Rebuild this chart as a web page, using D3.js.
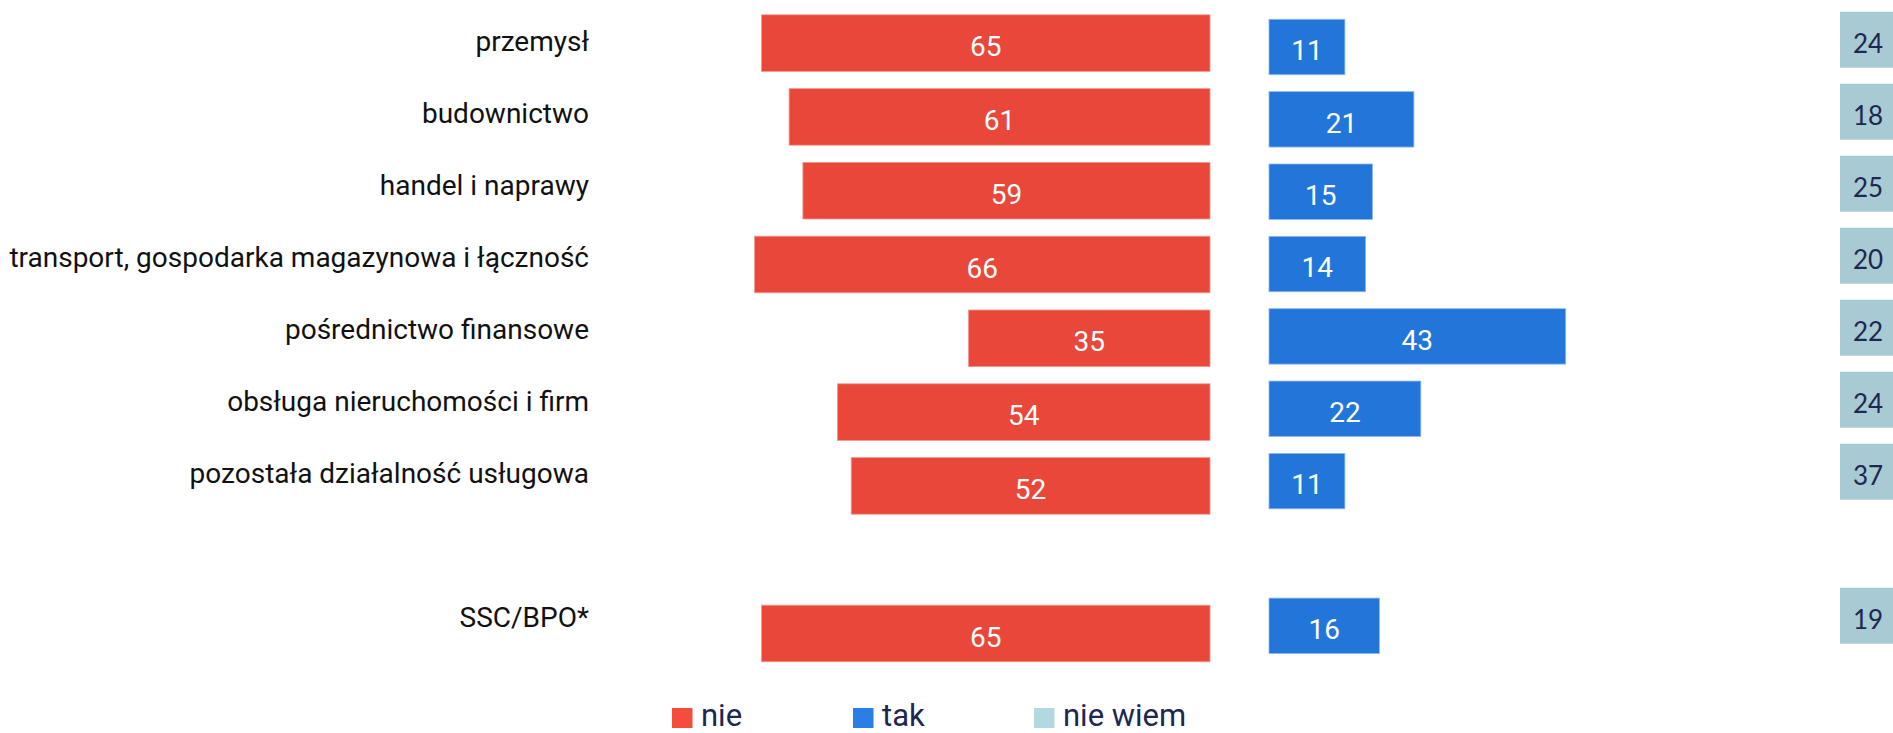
<!DOCTYPE html>
<html lang="pl">
<head>
  <meta charset="UTF-8" />
  <title>nie / tak / nie wiem</title>
  <script src="https://d3js.org/d3.v7.min.js"></script>
  <style>
    html, body { margin: 0; padding: 0; background: white; overflow: hidden; }
    svg { display: block; }
  </style>
</head>
<body>
<svg id="chart"></svg>
<script>
const width = 1893, height = 733;

// Data
const categories = [
  "przemysł",
  "budownictwo",
  "handel i naprawy",
  "transport, gospodarka magazynowa i łączność",
  "pośrednictwo finansowe",
  "obsługa nieruchomości i firm",
  "pozostała działalność usługowa",
  "SSC/BPO*"
];
const nie = [65, 61, 59, 66, 35, 54, 52, 65];
const tak = [11, 21, 15, 14, 43, 22, 11, 16];
const nieWiem = [24, 18, 25, 20, 22, 24, 37, 19];
const seriesNames = ["nie", "tak", "nie wiem"];

const svg = d3.select("#chart")
  .attr("width", width)
  .attr("height", height);

// empty row before SSC/BPO*
const rowKeys = categories.slice(0, 7).concat(["_gap"], categories.slice(7));

// each column sits on a slightly different grid in the original
function band(top, step, h) {
  const pi = 1 - h / step;
  const start = top - (pi / 2) * step;
  return d3.scaleBand().domain(rowKeys)
    .range([start, start + rowKeys.length * step])
    .paddingInner(pi).paddingOuter(pi / 2);
}
const yNie = band(14.8, 73.8, 56.6);
const yTak = band(19.3, 72.35, 55.4);
const yWiem = band(11.7, 72.0, 56);

const x = d3.scaleLinear().domain([0, 100]).range([0, 690]);

const nieRight = 1210, takLeft = 1269, wiemLeft = 1840;
const colors = { nie: "#e8473a", tak: "#2376d9", wiem: "#a8cad3" };
const legendColors = ["#f44d3d", "#2a7fe3", "#b3d8e0"];
const navy = "#1d2750";

const rows = categories.map((c, i) => ({ cat: c, nie: nie[i], tak: tak[i], wiem: nieWiem[i] }));

// Category labels
svg.append("g").selectAll("text")
  .data(rows).enter().append("text")
  .attr("x", 589)
  .attr("y", d => yWiem(d.cat) + yWiem.bandwidth() / 2)
  .attr("dy", "0.4em")
  .attr("text-anchor", "end")
  .attr("font-family", "Roboto, sans-serif")
  .attr("font-size", 28)
  .attr("fill", "#111")
  .text(d => d.cat);

// nie
const gNie = svg.append("g");
gNie.selectAll("rect")
  .data(rows).enter().append("rect")
  .attr("x", d => nieRight - x(d.nie))
  .attr("y", d => yNie(d.cat))
  .attr("width", d => x(d.nie))
  .attr("height", yNie.bandwidth())
  .attr("fill", colors.nie)
  .attr("stroke", "#f19a92")
  .attr("stroke-width", 0.8);
gNie.selectAll("text")
  .data(rows).enter().append("text")
  .attr("x", d => nieRight - x(d.nie) / 2)
  .attr("y", d => yNie(d.cat) + yNie.bandwidth() / 2)
  .attr("dy", "0.47em")
  .attr("text-anchor", "middle")
  .attr("font-family", "Roboto, sans-serif")
  .attr("font-size", 28)
  .attr("fill", "white")
  .text(d => d.nie);

// tak
const gTak = svg.append("g");
gTak.selectAll("rect")
  .data(rows).enter().append("rect")
  .attr("x", takLeft)
  .attr("y", d => yTak(d.cat))
  .attr("width", d => x(d.tak))
  .attr("height", yTak.bandwidth())
  .attr("fill", colors.tak)
  .attr("stroke", "#8cb9ee")
  .attr("stroke-width", 0.8);
gTak.selectAll("text")
  .data(rows).enter().append("text")
  .attr("x", d => takLeft + x(d.tak) / 2)
  .attr("y", d => yTak(d.cat) + yTak.bandwidth() / 2)
  .attr("dy", "0.47em")
  .attr("text-anchor", "middle")
  .attr("font-family", "Roboto, sans-serif")
  .attr("font-size", 28)
  .attr("fill", "white")
  .text(d => d.tak);

// nie wiem (cut off by the right edge)
const gWiem = svg.append("g");
gWiem.selectAll("rect")
  .data(rows).enter().append("rect")
  .attr("x", wiemLeft)
  .attr("y", d => yWiem(d.cat))
  .attr("width", d => x(d.wiem))
  .attr("height", yWiem.bandwidth())
  .attr("fill", colors.wiem);
gWiem.selectAll("text")
  .data(rows).enter().append("text")
  .attr("x", wiemLeft + 28)
  .attr("y", d => yWiem(d.cat) + yWiem.bandwidth() / 2)
  .attr("dy", "0.5em")
  .attr("text-anchor", "middle")
  .attr("font-family", "Lato, sans-serif")
  .attr("font-size", 26)
  .attr("fill", navy)
  .text(d => d.wiem);

// Legend
const legend = svg.append("g").attr("transform", "translate(672,708)");
const item = legend.selectAll("g")
  .data(seriesNames).enter().append("g")
  .attr("transform", (d, i) => `translate(${i * 181},0)`);
item.append("rect")
  .attr("width", 20.5)
  .attr("height", 20)
  .attr("fill", (d, i) => legendColors[i]);
item.append("text")
  .attr("x", 29)
  .attr("y", 18)
  .attr("font-family", "Roboto, sans-serif")
  .attr("font-size", 31)
  .attr("fill", navy)
  .text(d => d);
</script>
</body>
</html>
